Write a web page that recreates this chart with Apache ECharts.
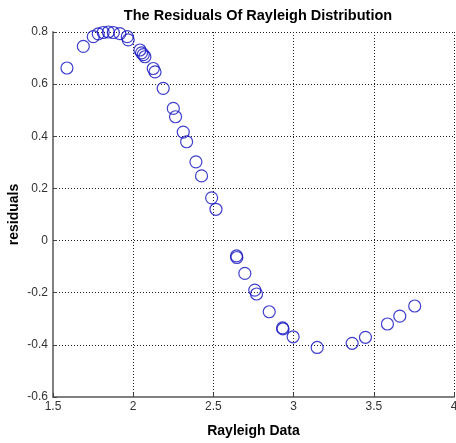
<!DOCTYPE html>
<html>
    <head>
        <meta charset="utf-8">
        <script src="https://cdn.jsdelivr.net/npm/echarts@6/dist/echarts.min.js"></script>
        <style>
            html, body { margin: 0; padding: 0; background: #fff; }
            #main { width: 456px; height: 443px; }
        </style>
    </head>
    <body>
        <div id="main"></div>
        <script>
        var rayleighData = [
            1.587, 1.689, 1.751, 1.782, 1.813, 1.845, 1.876, 1.917, 1.963, 1.969,
            2.042, 2.052, 2.063, 2.073, 2.125, 2.136, 2.187, 2.250, 2.264, 2.312,
            2.333, 2.391, 2.426, 2.489, 2.516, 2.644, 2.646, 2.696, 2.758, 2.769,
            2.848, 2.931, 2.934, 2.997, 3.147, 3.365, 3.448, 3.585, 3.662, 3.755
        ];
        var residuals = [
            0.662, 0.745, 0.782, 0.793, 0.798, 0.800, 0.798, 0.794, 0.782, 0.770,
            0.731, 0.720, 0.713, 0.705, 0.660, 0.647, 0.584, 0.507, 0.475, 0.416,
            0.379, 0.302, 0.248, 0.164, 0.120, -0.059, -0.065, -0.126, -0.190, -0.205,
            -0.273, -0.335, -0.339, -0.369, -0.410, -0.394, -0.371, -0.320, -0.290, -0.251
        ];
        var points = [];
        for (var i = 0; i < rayleighData.length; i++) {
            points.push([rayleighData[i], residuals[i]]);
        }

        var chart = echarts.init(document.getElementById('main'));
        var gridLine = {
            show: true,
            lineStyle: { color: '#222', type: [1, 2], width: 1 }
        };
        var axisText = { color: '#333', fontSize: 12, fontFamily: 'Liberation Sans' };
        var nameText = { color: '#000', fontSize: 14, fontWeight: 'bold', fontFamily: 'Liberation Sans' };

        chart.setOption({
            animation: false,
            title: {
                text: 'The Residuals Of Rayleigh Distribution',
                left: 253,
                textAlign: 'center',
                top: 3,
                textStyle: { color: '#000', fontSize: 14.5, fontWeight: 'bold', fontFamily: 'Liberation Sans' }
            },
            grid: { left: 53, right: 2, top: 32, bottom: 46, outerBoundsMode: 'none' },
            xAxis: {
                type: 'value',
                min: 1.5,
                max: 4,
                interval: 0.5,
                name: 'Rayleigh Data',
                nameLocation: 'middle',
                nameGap: 27,
                nameMoveOverlap: false,
                nameTextStyle: nameText,
                axisLine: { onZero: false, lineStyle: { color: '#808080', width: 2 } },
                axisTick: { inside: true, length: 4, lineStyle: { color: '#444' } },
                axisLabel: Object.assign({ margin: 4 }, axisText),
                splitLine: gridLine
            },
            yAxis: {
                type: 'value',
                min: -0.6,
                max: 0.8,
                interval: 0.2,
                name: 'residuals',
                nameLocation: 'middle',
                nameGap: 32,
                nameMoveOverlap: false,
                nameTextStyle: nameText,
                axisLine: { onZero: false, lineStyle: { color: '#808080', width: 2 } },
                axisTick: { inside: true, length: 4, lineStyle: { color: '#444' } },
                axisLabel: Object.assign({ margin: 5 }, axisText),
                splitLine: gridLine
            },
            series: [{
                type: 'scatter',
                data: points,
                symbol: 'circle',
                symbolSize: 12,
                itemStyle: {
                    color: 'rgba(0,0,0,0)',
                    borderColor: '#1010c0',
                    borderWidth: 1.2
                }
            }]
        });
        </script>
    </body>
</html>
